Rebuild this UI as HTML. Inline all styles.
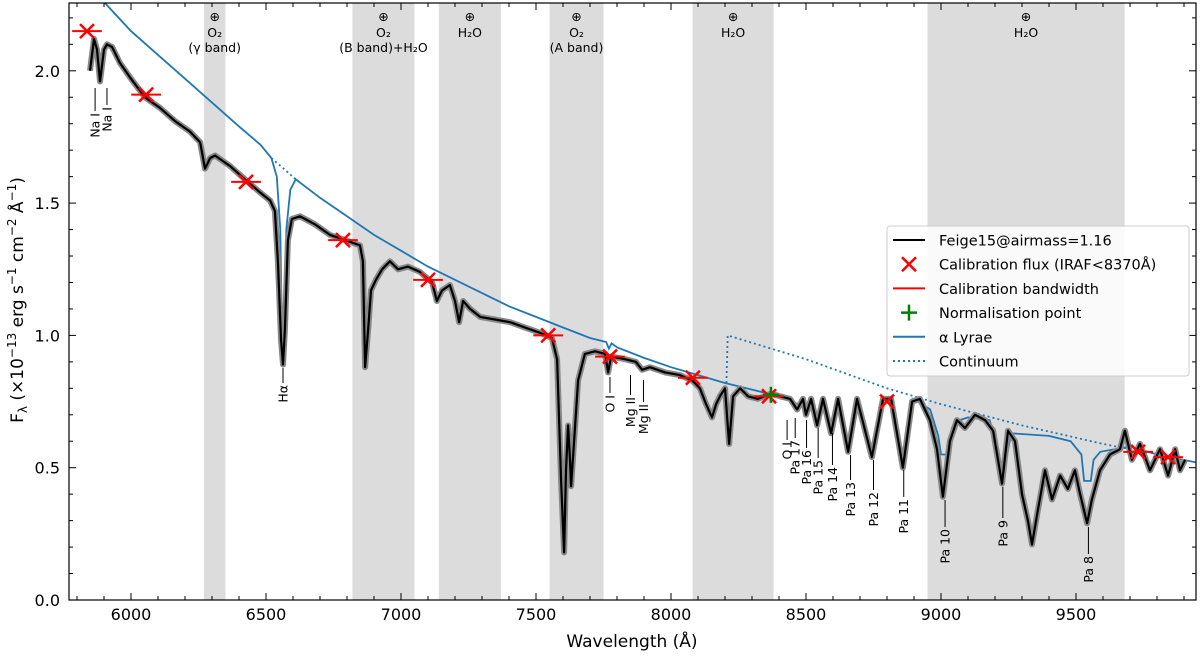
<!DOCTYPE html>
<html><head><meta charset="utf-8">
<style>
html,body{margin:0;padding:0;background:#fff;}
svg{display:block;font-family:"DejaVu Sans","Liberation Sans",sans-serif;}
</style></head>
<body>
<svg id="chart" width="1200" height="656" viewBox="0 0 1200 656" xmlns="http://www.w3.org/2000/svg"></svg>
<script>
// ---- data ----
const bandStarts=[6270,6820,7140,7550,8080,8950];
const bandEnds=[6350,7050,7370,7750,8380,9680];
const bandLabel1=["O₂","O₂","H₂O","O₂","H₂O","H₂O"];
const bandLabel2=["(γ band)","(B band)+H₂O","","(A band)","",""];
const feigeWl=[5848,5863,5874,5885,5900,5911,5930,5959,6000,6052,6107,6163,6219,6256,6274,6293,6311,6367,6422,6478,6515,6533,6544,6556,6563,6570,6581,6596,6626,6681,6737,6793,6848,6859,6867,6878,6889,6907,6930,6959,6989,7026,7070,7115,7133,7152,7181,7200,7215,7230,7256,7293,7348,7404,7459,7515,7559,7578,7593,7604,7611,7619,7626,7630,7641,7656,7681,7719,7756,7767,7778,7830,7870,7893,7922,7978,8033,8078,8107,8130,8152,8167,8181,8200,8215,8230,8256,8285,8322,8370,8404,8441,8467,8489,8500,8519,8541,8563,8593,8619,8656,8689,8744,8785,8815,8859,8893,8922,8959,8985,9007,9033,9059,9089,9126,9163,9193,9226,9248,9274,9300,9322,9337,9359,9385,9411,9441,9470,9496,9515,9541,9559,9589,9626,9663,9681,9707,9737,9774,9811,9841,9867,9885,9904];
const feigeFlux=[2.00,2.12,2.08,1.96,2.08,2.10,2.09,2.03,1.97,1.90,1.86,1.81,1.77,1.73,1.63,1.67,1.68,1.64,1.59,1.54,1.51,1.47,1.28,0.98,0.89,1.02,1.36,1.44,1.45,1.42,1.38,1.36,1.34,1.28,0.88,1.02,1.17,1.21,1.25,1.28,1.25,1.26,1.24,1.20,1.13,1.17,1.19,1.13,1.05,1.13,1.10,1.07,1.06,1.05,1.03,1.01,0.99,0.91,0.45,0.18,0.49,0.66,0.53,0.43,0.60,0.83,0.93,0.94,0.93,0.86,0.92,0.91,0.90,0.87,0.88,0.86,0.85,0.83,0.80,0.74,0.69,0.74,0.77,0.80,0.59,0.77,0.80,0.77,0.76,0.78,0.77,0.76,0.72,0.76,0.70,0.76,0.66,0.76,0.63,0.76,0.56,0.76,0.54,0.76,0.76,0.50,0.75,0.76,0.68,0.57,0.39,0.60,0.68,0.65,0.70,0.68,0.64,0.44,0.64,0.60,0.40,0.30,0.21,0.34,0.49,0.38,0.47,0.42,0.49,0.40,0.29,0.38,0.49,0.55,0.57,0.64,0.53,0.59,0.49,0.57,0.47,0.57,0.49,0.53];
const lyraWl=[5900,6000,6100,6200,6300,6400,6480,6520,6540,6553,6560,6566,6575,6590,6610,6700,6800,6900,7000,7100,7200,7300,7400,7500,7600,7700,7760,7770,7780,7800,7900,8000,8100,8200,8300,8400,8440,8467,8490,8500,8518,8541,8562,8593,8618,8656,8688,8744,8785,8815,8859,8895,8930,8960,8990,9000,9025,9040,9070,9100,9180,9210,9230,9245,9260,9400,9480,9520,9530,9555,9565,9590,9700,9800,9945];
const lyraFlux=[2.26,2.15,2.06,1.97,1.88,1.79,1.72,1.67,1.60,1.40,0.95,0.95,1.40,1.55,1.59,1.52,1.45,1.38,1.32,1.26,1.21,1.16,1.11,1.07,1.03,0.99,0.975,0.95,0.97,0.955,0.915,0.88,0.85,0.82,0.795,0.77,0.76,0.74,0.76,0.72,0.76,0.68,0.76,0.64,0.76,0.57,0.76,0.55,0.76,0.76,0.52,0.76,0.74,0.72,0.62,0.55,0.55,0.65,0.68,0.69,0.68,0.58,0.47,0.55,0.63,0.62,0.60,0.55,0.45,0.45,0.53,0.56,0.58,0.55,0.52];
const contWl1=[6520,6560,6610];
const contFlux1=[1.67,1.635,1.59];
const contWl2=[8205,8210,8500,8800,9000,9300,9600,9750];
const contFlux2=[0.82,1.00,0.91,0.80,0.74,0.66,0.59,0.56];
const calWl=[5837,6056,6426,6785,7100,7545,7774,8081,8363,8800,9730,9841];
const calFlux=[2.15,1.91,1.58,1.36,1.21,1.00,0.92,0.84,0.77,0.75,0.56,0.54];
const calHalfWidth=[55,55,55,55,55,55,55,55,55,0,55,55];
const normWl=[8370];
const normFlux=[0.775];
const xTicks=[6000,6500,7000,7500,8000,8500,9000,9500];
const yTicks=[0.0,0.5,1.0,1.5,2.0];
const annLabel=["Na I","Na I","Hα","O I","Mg II","Mg II","O I","Pa 17","Pa 16","Pa 15","Pa 14","Pa 13","Pa 12","Pa 11","Pa 10","Pa 9","Pa 8"];
const annWl=[5867,5911,6563,7774,7850,7898,8430,8460,8502,8545,8598,8665,8750,8862,9015,9229,9546];
const annTop=[88,88,368,377,375,380,420,418,420,428,433,455,460,470,500,487,527];
const annBot=[111,105,383,393,395,402,440,438,448,458,465,480,490,497,527,518,554];

// ---- scales ----
const L=69,R=1196,T=3,B=600;
const X=w=>131+(w-6000)*0.27;
const Y=f=>600-f*264.6;
const svg=document.getElementById('chart');
const NS='http://www.w3.org/2000/svg';
function mk(tag,attrs,parent){const e=document.createElementNS(NS,tag);for(const k in attrs)e.setAttribute(k,attrs[k]);(parent||svg).appendChild(e);return e;}

const defs=mk('defs',{});
const cp=mk('clipPath',{id:'plotclip'},defs);
mk('rect',{x:L,y:T,width:R-L,height:B-T},cp);

for(let i=0;i<bandStarts.length;i++){
  const r=mk('rect',{x:X(bandStarts[i]),y:T,width:X(bandEnds[i])-X(bandStarts[i]),height:B-T,fill:'#dcdcdc'});
  
  
  const cx=(X(bandStarts[i])+X(bandEnds[i]))/2;
  const g=mk('g',{'font-size':'12.5','text-anchor':'middle',fill:'#000'});
  
  
  const t0=mk('text',{x:cx,y:21},g);t0.textContent='⊕';
  const t1=mk('text',{x:cx,y:37},g);t1.textContent=bandLabel1[i];
  if(bandLabel2[i]){const t2=mk('text',{x:cx,y:52},g);t2.textContent=bandLabel2[i];}
}

const plot=mk('g',{'clip-path':'url(#plotclip)'});
function pathOf(ws,fs){return ws.map((w,i)=>(i?'L':'M')+X(w).toFixed(1)+','+Y(fs[i]).toFixed(1)).join(' ');}

const ly=mk('path',{d:pathOf(lyraWl,lyraFlux),fill:'none',stroke:'#1f77b4','stroke-width':1.8},plot);


const c1=mk('path',{d:pathOf(contWl1,contFlux1),fill:'none',stroke:'#1f77b4','stroke-width':1.8,'stroke-dasharray':'2,3'},plot);


const c2=mk('path',{d:pathOf(contWl2,contFlux2),fill:'none',stroke:'#1f77b4','stroke-width':1.8,'stroke-dasharray':'2,3'},plot);


const fe=mk('path',{d:pathOf(feigeWl,feigeFlux),fill:'none',stroke:'#888','stroke-width':6,'stroke-linejoin':'round'},plot);


const fl=mk('path',{d:pathOf(feigeWl,feigeFlux),fill:'none',stroke:'#000','stroke-width':2.2,'stroke-linejoin':'round'},plot);



for(let i=0;i<calWl.length;i++){
  const x=X(calWl[i]),y=Y(calFlux[i]);
  const g=mk('g',{stroke:'red','stroke-width':2.5},plot);
  
  
  if(calHalfWidth[i]>0) mk('line',{x1:X(calWl[i]-calHalfWidth[i]),x2:X(calWl[i]+calHalfWidth[i]),y1:y,y2:y,'stroke-width':2},g);
  mk('path',{d:`M${x-7},${y-7}L${x+7},${y+7}M${x-7},${y+7}L${x+7},${y-7}`},g);
}
for(let i=0;i<normWl.length;i++){
  const x=X(normWl[i]),y=Y(normFlux[i]);
  const p=mk('path',{d:`M${x-8},${y}L${x+8},${y}M${x},${y-8}L${x},${y+8}`,stroke:'green','stroke-width':2.5},plot);
  
  
}

for(let i=0;i<annLabel.length;i++){
  const x=X(annWl[i]);
  const g=mk('g',{});
  
  
  mk('line',{x1:x,x2:x,y1:annTop[i],y2:annBot[i],stroke:'#000','stroke-width':1},g);
  const t=mk('text',{x:x+4.5,y:annBot[i]+2,'font-size':'12.5','text-anchor':'end',transform:`rotate(-90 ${x+4.5} ${annBot[i]+2})`},g);
  t.textContent=annLabel[i];
}

const fr=mk('rect',{x:L,y:T,width:R-L,height:B-T,fill:'none',stroke:'#000','stroke-width':1.2});


const tk=mk('g',{stroke:'#000','stroke-width':1});
for(let w=5800;w<=9900;w+=100){
  const x=X(w);const major=w%500===0;const len=major?7:4;
  mk('line',{x1:x,x2:x,y1:B,y2:B-len},tk);mk('line',{x1:x,x2:x,y1:T,y2:T+len},tk);
}
for(let k=0;k<=22;k++){
  const f=k/10;const y=Y(f);const major=k%5===0;const len=major?7:4;
  mk('line',{x1:L,x2:L+len,y1:y,y2:y},tk);mk('line',{x1:R,x2:R-len,y1:y,y2:y},tk);
}
xTicks.forEach(w=>{const t=mk('text',{x:X(w),y:620,'font-size':'16','text-anchor':'middle'});t.textContent=w;
  });
yTicks.forEach(f=>{const t=mk('text',{x:60,y:Y(f)+6,'font-size':'16','text-anchor':'end'});t.textContent=f.toFixed(1);
  });
const xl=mk('text',{x:632,y:647,'font-size':'17','text-anchor':'middle'});xl.textContent='Wavelength (Å)';

const yl=mk('text',{x:0,y:0,'font-size':'17','text-anchor':'middle',transform:'translate(23 300) rotate(-90)'});
yl.innerHTML='F<tspan font-size="12" dy="4">λ</tspan><tspan dy="-4"> (×10</tspan><tspan font-size="12" dy="-7">−13</tspan><tspan dy="7"> erg s</tspan><tspan font-size="12" dy="-7">−1</tspan><tspan dy="7"> cm</tspan><tspan font-size="12" dy="-7">−2</tspan><tspan dy="7"> Å</tspan><tspan font-size="12" dy="-7">−1</tspan><tspan dy="7">)</tspan>';


const lg=mk('g',{});


mk('rect',{x:887,y:226,width:302,height:150,rx:3,fill:'#fff','fill-opacity':0.85,stroke:'#ccc'},lg);
const rows=['Feige15@airmass=1.16','Calibration flux (IRAF<8370Å)','Calibration bandwidth','Normalisation point','α Lyrae','Continuum'];
rows.forEach((r,i)=>{
  const y=240+i*24.2;
  const e=mk('g',{},lg);
  
  
  if(i===0) mk('line',{x1:893,x2:925,y1:y,y2:y,stroke:'#000','stroke-width':2},e);
  if(i===1) mk('path',{d:`M902,${y-7}L916,${y+7}M902,${y+7}L916,${y-7}`,stroke:'red','stroke-width':2.5},e);
  if(i===2) mk('line',{x1:893,x2:925,y1:y,y2:y,stroke:'red','stroke-width':2},e);
  if(i===3) mk('path',{d:`M901,${y}L917,${y}M909,${y-8}L909,${y+8}`,stroke:'green','stroke-width':2.5},e);
  if(i===4) mk('line',{x1:893,x2:925,y1:y,y2:y,stroke:'#1f77b4','stroke-width':2},e);
  if(i===5) mk('line',{x1:893,x2:925,y1:y,y2:y,stroke:'#1f77b4','stroke-width':2,'stroke-dasharray':'2,3'},e);
  const t=mk('text',{x:939,y:y+5.5,'font-size':'14.5'},e);t.textContent=r;
});
</script>
</body></html>
